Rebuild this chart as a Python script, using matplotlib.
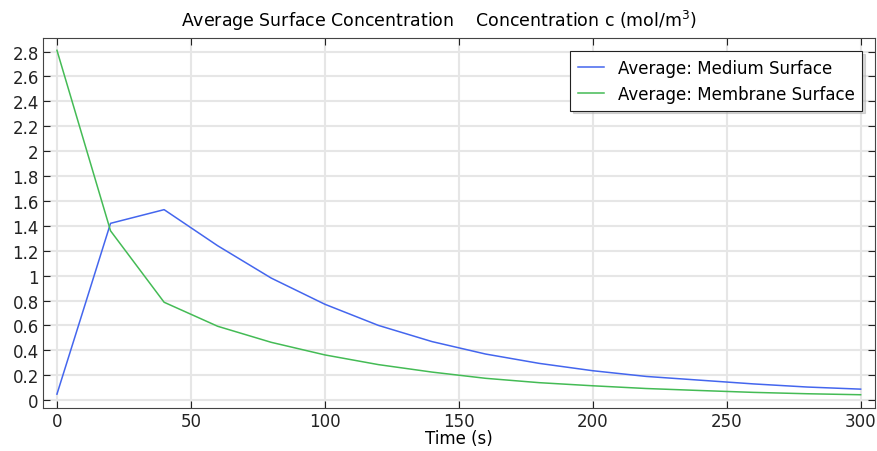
import numpy as np
import matplotlib.pyplot as plt

plt.rcParams['font.family'] = 'DejaVu Sans'

# time steps (s)
time = [0, 20, 40, 60, 80, 100, 120, 140, 160, 180, 200, 220, 240, 260, 280, 300]

# average concentration on each surface (mol/m^3)
medium = [0.048, 1.42, 1.53, 1.24, 0.98, 0.77, 0.60, 0.47, 0.37, 0.295,
          0.236, 0.19, 0.16, 0.13, 0.105, 0.088]
membrane = [2.81, 1.36, 0.786, 0.593, 0.464, 0.363, 0.285, 0.225, 0.175, 0.14,
            0.115, 0.093, 0.077, 0.062, 0.051, 0.043]

xticks = [0, 50, 100, 150, 200, 250, 300]
yticks = [0, 0.2, 0.4, 0.6, 0.8, 1, 1.2, 1.4, 1.6, 1.8, 2, 2.2, 2.4, 2.6, 2.8]
ytick_labels = ['0', '0.2', '0.4', '0.6', '0.8', '1', '1.2', '1.4', '1.6', '1.8',
                '2', '2.2', '2.4', '2.6', '2.8']

fig = plt.figure(figsize=(8.78, 4.52), dpi=100)
ax = fig.add_axes([0.049, 0.095, 0.948, 0.819])

ax.plot(time, medium, color='#4466ee', lw=1.1, label='Average: Medium Surface')
ax.plot(time, membrane, color='#44bb55', lw=1.1, label='Average: Membrane Surface')

ax.set_xlim(-5.2, 305.5)
ax.set_ylim(-0.064, 2.91)
ax.set_xticks(xticks)
ax.set_yticks(yticks)
ax.set_yticklabels(ytick_labels)
ax.tick_params(direction='in', top=True, right=True, length=5, labelsize=12,
               colors='#222222', labeltop=False, labelright=False, pad=3)
ax.grid(True, color='#e6e6e6', lw=1.5)
ax.set_axisbelow(True)
for s in ax.spines.values():
    s.set_color('#444444')

ax.set_xlabel('Time (s)', fontsize=12, labelpad=-1)
fig.text(0.5, 0.953, 'Average Surface Concentration    Concentration c (mol/m$^3$)',
         ha='center', va='center', fontsize=12.5)

leg = ax.legend(loc='upper right', fontsize=12, fancybox=False,
                shadow={'color': '#b0b0b0'}, framealpha=1, edgecolor='#222222',
                borderaxespad=0.8, handlelength=1.6, borderpad=0.45,
                labelspacing=0.5)
leg.get_frame().set_linewidth(0.8)

plt.savefig('out.png', dpi=100)
